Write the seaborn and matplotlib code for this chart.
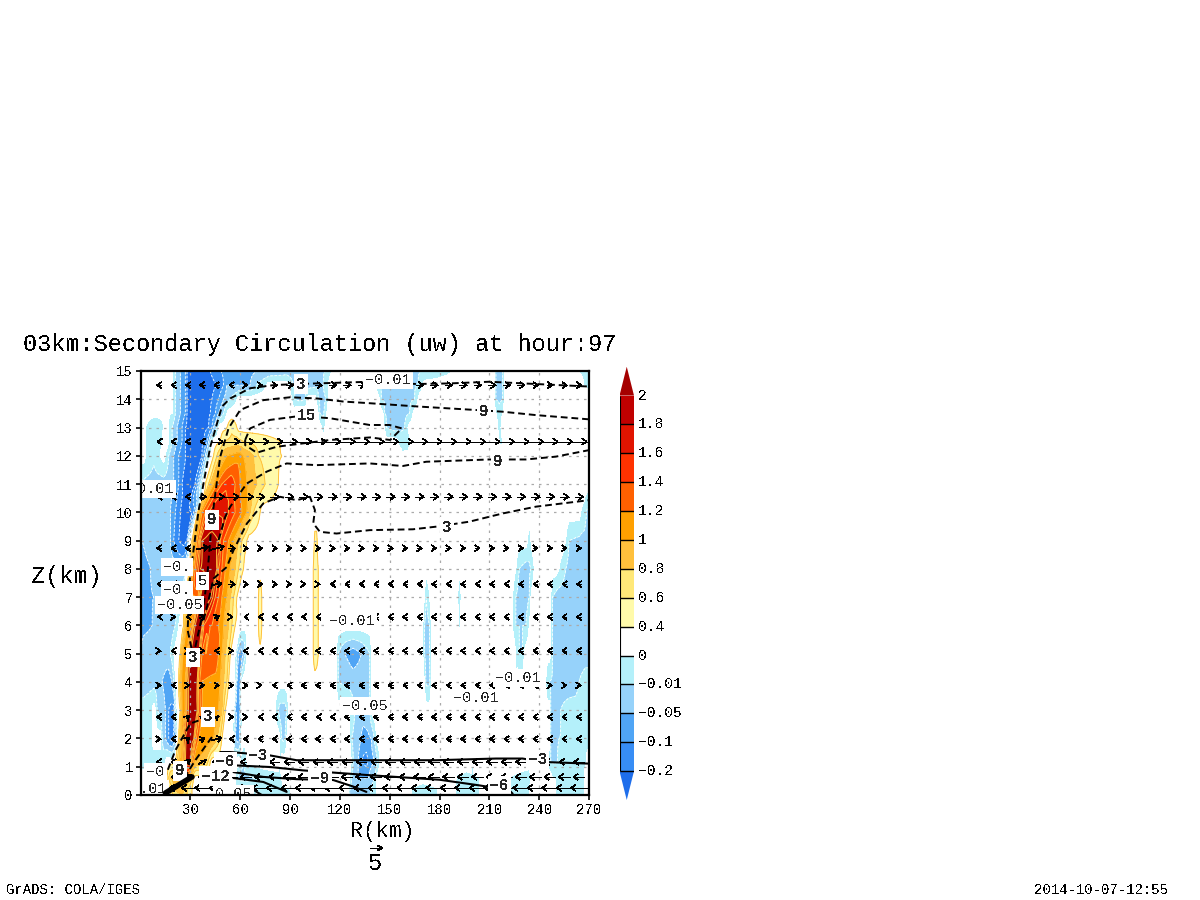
import numpy as np
import matplotlib
matplotlib.use("Agg")
import matplotlib.pyplot as plt
from matplotlib.collections import LineCollection
import seaborn as sns

# ---------- shading classes ----------
LEVELS = [-0.4, -0.2, -0.1, -0.05, -0.01, 0, 0.4, 0.6, 0.8, 1, 1.2, 1.4, 1.6, 1.8, 2, 2.4]
COLORS = ['#1e6eeb', '#378df5', '#50a5f5', '#96d2fa', '#b4f0fa', '#ffffff', '#fffaaa', '#ffe878',
          '#ffc03c', '#ffa000', '#ff6000', '#ff3200', '#e11400', '#c00000', '#a50000']
CB_LABELS = ['−0.2', '−0.1', '−0.05', '−0.01', '0', '0.4', '0.6', '0.8', '1', '1.2', '1.4', '1.6', '1.8', '2']

# ---------- w field, read row by row: radius (km) and value at contour crossings ----------
Z_ROWS = [0, 0.2, 0.6, 1.2, 2, 3, 4, 5, 6, 7, 8, 9, 10, 11, 12, 12.5, 13, 13.5, 14, 14.5, 15]
# radius of the updraft core at each of those heights, so the bands follow its tilt between rows
CORE_TILT = [27, 27, 28, 28.5, 29.5, 31, 31.5, 32.5, 35, 39, 43, 42.5, 46, 53, 58, 58, 58, 58, 58, 58, 58]

R00 = [0,17,18,20,25,28,31,32,60,62,70,80,90,91,125,126,130,138,140,142,143,162,163,170,179,180,189,190,204,205,221,222,234,235,249,250,265,267,268,270]
W00 = [.2,.2,.4,.7,.8,.6,.4,.2,.2,0,-.01,-.005,0,.2,.2,-.01,-.03,-.02,-.005,0,.2,.2,0,-.005,0,.2,.2,-.003,0,.2,.2,-.005,0,.2,.2,0,-.003,0,.2,.2]
R02 = [0,17,18,20,25,28,31,32,60,62,70,80,90,91,125,126,130,138,140,142,143,162,163,170,179,180,189,190,204,205,221,222,234,235,249,250,265,267,268,270]
W02 = [.2,.2,.4,.8,.9,.6,.4,.2,.2,0,-.01,-.005,0,.2,.2,-.01,-.03,-.02,-.005,0,.2,.2,0,-.005,0,.2,.2,-.003,0,.2,.2,-.005,0,.2,.2,0,-.003,0,.2,.2]
R06 = [0,14,16,18,22,26,28,30,32,33,56,57,58,60,65,75,83,85,86,125,126,127,130,137,141,142,143,189,190,196,204,205,221,222,234,235,236,247,248,266,267,268,270]
W06 = [.2,.2,.4,.8,.9,1,1.1,.8,.4,.2,.2,0,-.01,-.03,-.02,-.005,-.003,0,.2,.2,0,-.01,-.05,-.05,-.01,-.001,.2,.2,0,-.003,0,.2,.2,0,-.005,0,.2,.2,0,-.003,0,.2,.2]
R12 = [0,14,15,16,20,21,23,25,26,27,30,31,33,38,40,42,43,59,60,62,64,65,83,84,85,126,127,128,130,133,136,138,141,143,144,145,190,191,192,199,200,201,244,245,247,249,251,252,255,268,269,270]
W12 = [-.005,-.005,0,.2,.2,.4,.8,1.1,1.5,2.05,2.1,1.4,1,.9,.7,.4,.2,.2,0,-.01,0,.2,.2,-.003,.2,.2,0,-.01,-.03,-.1,-.15,-.07,-.05,-.01,0,.2,.2,-.002,.2,.2,-.002,.2,.2,0,-.01,-.02,-.01,0,-.003,-.002,.2,.2]
R20 = [0,5,7,8,12,13,15,17,19,21,22,23,24,25,26,27,32,33,35,42,44,46,48,49,50,56,57,59,60,61,83,84,85,86,87,88,89,125,126,127,131,134,139,140,142,143,190,191,192,199,200,201,246,247,250,252,270]
W20 = [-.01,-.005,0,.2,.2,-.01,-.05,-.1,-.15,-.05,0,.4,.8,1.1,1.8,2.05,2.1,1.5,1.2,1.1,1,.8,.6,.4,.2,.2,-.05,-.08,-.05,.2,.2,0,-.01,-.02,-.01,0,.2,.2,0,-.01,-.03,-.07,-.05,-.03,0,.2,.2,-.002,.2,.2,-.002,.2,.2,-.01,-.03,-.01,-.005]
R30 = [0,5,7,8,9,10,13,15,17,20,21,22,23,24,25,27,28,29,34,35,37,44,47,49,50,51,52,56,57,59,60,61,80,81,83,84,87,88,89,90,125,126,129,130,137,138,139,140,246,247,252,253,262,270]
W30 = [-.01,-.005,0,.2,0,-.01,-.03,-.05,-.1,-.15,-.01,0,.2,.4,1,1.2,1.8,2.05,2.1,1.6,1.2,1.1,1,.8,.6,.4,.2,.2,-.05,-.08,-.05,.2,.2,0,-.01,-.03,-.03,-.01,0,.2,.2,0,-.01,-.03,-.03,-.01,0,.2,.2,-.01,-.03,-.01,-.005,-.005]
R40 = [0,2,10,13,17,19,20,21,22,23,24,25,27,28,29,34,35,37,46,48,50,52,53,54,56,57,58,59,60,61,62,116,118,119,128,136,138,139,140,170,171,172,174,175,176,202,203,204,225,226,227,243,244,245,262,264,268,270]
W40 = [-.01,-.02,-.03,-.05,-.08,-.05,-.01,0,.2,.4,.8,1.1,1.2,1.8,2.05,2.1,1.5,1.2,1.1,1,.8,.6,.4,.2,.2,0,-.05,-.08,-.05,0,.2,.2,0,-.01,-.03,-.03,-.01,0,.2,.2,0,-.02,-.02,0,.2,.2,-.002,.2,.2,-.001,.2,.2,0,-.01,-.03,-.01,-.005,-.005]
R50 = [0,2,16,18,20,21,23,24,25,26,28,29,30,35,36,38,39,46,47,49,51,53,54,55,56,57,58,59,60,62,63,64,65,103,104,105,106,107,108,116,118,119,123,128,133,138,139,140,169,170,171,172,174,175,176,202,203,204,225,226,228,230,231,232,246,247,248,252,270]
W50 = [-.05,-.03,-.03,-.01,0,.2,.3,.4,.9,1.1,1.2,1.8,2.05,2.1,1.6,1.2,1.4,1.4,1.2,1,.8,.6,.4,.2,.2,0,-.03,-.05,-.08,-.05,-.01,0,.2,.2,.4,.55,.5,.4,.2,.2,0,-.01,-.05,-.08,-.05,-.01,0,.2,.2,0,-.01,-.03,-.01,0,.2,.2,-.002,.2,.2,0,-.01,-.01,0,.2,.2,0,-.01,-.03,-.03]
R60 = [0,7,8,19,21,23,24,25,26,27,28,31,32,33,37,38,42,45,47,50,53,55,57,58,70,71,72,73,74,103,104,105,106,107,108,169,170,171,172,174,175,176,191,192,193,202,203,204,223,224,226,232,234,235,245,247,248,250,270]
W60 = [-.07,-.05,-.03,-.03,-.01,0,.2,.2,.4,.8,1.1,1.2,1.8,2.05,2.1,1.6,1.4,1.4,1.2,1,.8,.6,.4,.2,.2,.4,.6,.4,.2,.2,.4,.55,.55,.4,.2,.2,0,-.01,-.03,-.01,0,.2,.2,-.003,.2,.2,-.002,.2,.2,0,-.01,-.01,0,.2,.2,0,-.01,-.03,-.03]
R70 = [0,8,9,22,24,25,26,27,28,29,34,35,36,42,43,45,47,49,52,54,56,58,59,70,71,72,73,74,103,104,105,107,108,170,171,172,174,175,190,191,192,193,194,202,203,204,223,224,226,228,232,234,235,236,245,247,248,251,270]
W70 = [-.07,-.05,-.03,-.03,-.01,0,.2,.4,.9,1.1,1.2,1.5,2,2.1,1.9,1.6,1.4,1.2,1,.8,.6,.4,.2,.2,.4,.55,.4,.2,.2,.4,.55,.4,.2,.2,0,-.01,0,.2,.2,0,-.01,0,.2,.2,-.002,.2,.2,0,-.01,-.03,-.03,-.01,0,.2,.2,0,-.01,-.03,-.03]
R80 = [0,6,8,20,25,27,28,29,30,31,33,35,36,40,46,47,49,51,54,57,59,62,63,103,104,105,107,108,166,167,168,224,226,228,232,235,237,238,250,252,256,259,270]
W80 = [-.07,-.05,-.03,-.03,-.05,-.03,0,.2,.5,1,1.4,1.8,2,2.2,2,1.6,1.4,1.2,1,.8,.6,.4,.2,.2,.4,.55,.4,.2,.2,-.003,.2,.2,0,-.01,-.03,-.01,0,.2,.2,0,-.01,-.03,-.03]
R90 = [0,1,4,15,18,20,23,26,28,29,30,31,32,33,35,36,37,42,47,48,50,53,56,59,61,64,65,104,105,106,107,166,167,168,232,233,234,235,236,254,256,258,270]
W90 = [-.05,-.05,-.04,-.03,-.05,-.1,-.2,-.3,-.2,-.01,.2,.4,.8,1,1.4,1.8,2,2.2,2,1.6,1.4,1.2,1,.8,.6,.4,.2,.2,.45,.45,.2,.2,-.003,.2,.2,0,-.005,0,.2,.2,0,-.01,-.03]
R100 = [0,8,10,11,12,16,18,21,24,28,31,32,33,34,35,36,37,39,41,44,50,53,57,61,64,66,68,72,73,264,265,267,269,270]
W100 = [-.03,-.03,-.01,-.01,-.02,-.04,-.05,-.1,-.2,-.25,-.2,-.1,-.05,0,.8,1,1.2,1.4,1.6,1.8,1.75,1.6,1.4,1.2,1,.8,.6,.4,.2,.2,0,-.003,-.02,-.03]
R110 = [0,15,17,20,23,25,29,33,34,35,36,37,38,39,41,42,44,46,49,53,57,60,64,70,75,83,84,270]
W110 = [-.02,-.03,-.03,-.05,-.1,-.2,-.28,-.2,-.1,-.05,-.01,0,.2,.4,.6,.8,1,1.2,1.4,1.55,1.4,1.2,1,.8,.6,.4,.2,.2]
R120 = [0,2,3,8,12,14,15,17,20,23,27,31,37,38,39,40,42,43,44,46,48,52,60,62,68,71,85,86,157,158,159,270]
W120 = [.2,.2,0,-.008,0,.2,0,-.01,-.05,-.1,-.2,-.3,-.2,-.1,-.05,-.01,0,.2,.4,.6,.8,1,1.1,1,.8,.6,.4,.2,.2,-.001,.2,.2]
R125 = [0,2,3,8,13,14,16,17,19,22,25,27,33,38,40,41,42,43,44,47,48,50,58,62,84,85,154,155,157,161,162,163,215,216,217,218,219,270]
W125 = [.2,.2,0,-.008,0,.2,.2,0,-.01,-.05,-.1,-.2,-.3,-.2,-.1,-.05,-.01,0,.2,.35,.4,.6,.7,.6,.4,.2,.2,0,-.005,-.01,0,.2,.2,0,-.003,0,.2,.2]
R130 = [0,2,3,8,14,15,16,17,19,22,25,27,34,41,43,44,46,47,48,51,52,55,58,59,108,109,110,111,112,146,147,148,153,159,161,162,214,215,216,217,218,270]
W130 = [.2,.2,0,-.008,0,.2,.2,0,-.01,-.05,-.1,-.2,-.35,-.2,-.1,-.05,-.01,0,.2,.3,.4,.55,.4,.2,.2,0,-.005,0,.2,.2,0,-.01,-.03,-.01,0,.2,.2,0,-.005,0,.2,.2]
R135 = [0,19,21,24,27,28,36,42,45,47,50,52,53,106,107,108,110,112,113,145,146,147,155,162,164,165,213,214,216,218,219,270]
W135 = [.2,0,-.01,-.05,-.1,-.2,-.35,-.2,-.1,-.05,-.01,0,.2,.2,0,-.01,-.02,0,.2,.2,0,-.01,-.03,-.01,0,.2,.2,0,-.005,0,.2,.2]
R140 = [0,19,21,24,27,28,37,43,47,50,54,58,59,90,91,93,96,99,100,101,105,106,107,110,112,113,114,143,144,145,155,165,167,168,212,213,214,216,218,219,220,270]
W140 = [.2,0,-.01,-.05,-.1,-.2,-.35,-.2,-.1,-.05,-.01,0,.2,.2,0,-.01,-.02,-.01,0,.2,.2,0,-.01,-.02,-.01,0,.2,.2,0,-.01,-.03,-.01,0,.2,.2,0,-.01,-.02,-.01,0,.2,.2]
R145 = [0,19,21,24,27,28,38,46,50,52,66,70,76,77,88,89,92,100,110,113,114,141,142,143,155,167,170,171,212,213,214,216,218,219,220,265,267,270]
W145 = [.2,0,-.01,-.05,-.1,-.2,-.35,-.2,-.1,-.05,-.05,-.01,0,.2,.2,0,-.01,-.03,-.01,0,.2,.2,0,-.01,-.03,-.01,0,.2,.2,0,-.01,-.03,-.01,0,.2,.2,0,-.003]
R150 = [0,19,21,24,27,28,35,42,48,71,90,112,115,116,140,141,142,150,170,188,190,212,213,214,216,218,219,220,262,263,270]
W150 = [.2,0,-.01,-.05,-.1,-.2,-.35,-.2,-.1,-.05,-.03,-.01,0,.2,.2,0,-.01,-.03,-.01,0,.2,.2,0,-.01,-.03,-.01,0,.2,.2,0,-.005]

R_ROWS = [R00,R02,R06,R12,R20,R30,R40,R50,R60,R70,R80,R90,R100,R110,R120,R125,R130,R135,R140,R145,R150]
W_ROWS = [W00,W02,W06,W12,W20,W30,W40,W50,W60,W70,W80,W90,W100,W110,W120,W125,W130,W135,W140,W145,W150]

# ---------- wind vectors ----------
VEC_Z = [14.5, 12.5, 10.55, 8.73, 7.46, 6.3, 5.1, 3.88, 2.76, 1.98, 1.17, 0.64, 0.25]
U145 = [-1.5,-1.5,-1.5,-2,-2,-1.5,1.2,1.5,2,3,3,3,3,3,3,3,3,3,3,3,3,3,3,3,3,3,2,2,2,2]
U125 = [-1,-1.5,-1.5,-1.5,5,7,7,7,6.5,6.5,6.5,6.5,6.5,6.5,6.5,6.5,6.5,6.5,6.5,6.5,6.5,6.5,6.5,6.5,6.5,6.5,6.5,6.5,6.5,6.5]
U105 = [-1,-1.5,-1.5,3,6,6,6,3.5,3.5,3.5,3.5,3.5,3.5,3.5,3.5,3.5,3.5,3.5,3.5,3.5,3.5,3.5,3.5,3.5,3.5,3.5,3.5,3.5,3.5,3.5]
U87 = [-1.5,-1.5,-1.5,5,6,3,1.7,1.7,1.7,1.7,1.7,1.7,1.7,1.7,1.7,1.7,1.7,1.7,1.7,1.7,1.7,1.7,1.7,1.7,1.7,1.7,1.7,1.7,1.7,1.7]
U75 = [-1,-1,-1,3,4,3,1.7,1.7,1.7,1.5,1.5,1.2,-1.5,-1.5,-1.5,-1.5,-1.5,-1.5,-1.5,-1.5,-1.5,-1.5,-1.5,-1.5,-1.5,-1.5,-1.5,-1.5,-1.5,-1.5]
U63 = [-0.5,1.5,-1,2,2,1,-1.2,-1.2,-1.5,-1.2,-1.2,-1.5,-1.7,-1.7,-1.7,-1.7,-1.7,-1.7,-1.7,-1.7,-1.7,-1.7,-1.7,-1.7,-1.7,-1.7,-1.7,-1.7,-1.7,-1.7]
U51 = [1.5,-1.5,1.2,1.5,-1.5,1.5,-1.5,-1.2,-1.5,-1.5,-1.7,-1.7,-1.7,-1.7,-1.7,-1.7,-1.7,-1.7,-1.7,-1.7,-1.7,-1.7,-1.7,-1.7,-1.7,-1.7,-1.7,-1.7,-1.7,-1.7]
U39 = [1.5,-1.2,1,1.5,1.7,1.7,1.5,1,-1.5,-1.5,-1.7,-1.7,-1.7,-1.7,-1.7,-1.7,-1.7,-1.5,-1.5,-1.5,-1.5,-1.5,-1.5,-1.5,-1.5,-1.5,-1.5,1.5,1.5,1.5]
U28 = [-1.5,-1.5,1,1.5,1.5,1.5,1.5,-1.2,-1.5,-1.5,-1.7,-1.2,-1.5,-1.7,-1.7,-1.7,-1.7,-1.7,-1.7,-1.7,-1.7,-1.7,-1.7,-1.7,-1.7,-1.7,-1.7,-1.7,-1.7,-1.7]
U20 = [1.5,-1.5,1.2,2,4,-1.2,-1.5,-1.5,-1.5,-1.7,-1.7,-1.7,-1.7,-1.7,-1.7,-1.7,-1.7,-1.7,-1.7,-1.7,-1.7,-1.7,-1.7,-1.7,-1.7,-1.7,-1.7,-1.7,-1.7,-1.7]
U12 = [-1.5,-1.5,2,3,-3,-3.5,-4,-4,-4,-4,-4,-4,-4,-4,-4,-4,-4,-4,-4,-4,-4,-4,-4,-4,-4,-4,-4,-4,-4,-4]
U06 = [-1.5,-1.5,3,-3,-3.5,-4.5,-4.5,-4.5,-4.5,-4.5,-4.5,-4.5,-4.5,-4.5,-4.5,-4.5,-4.5,-4.5,-4.5,-4.5,-4.5,-4.5,-4.5,-4.5,-4.5,-4.5,-4.5,-4.5,-4.5,-4.5]
U02 = [-2,-3,-5,-6,-6,-6.5,-6.5,-6.5,-6.5,-6.5,-6.5,-6.5,-6.5,-6.5,-6.5,-6.5,-6.5,-6.5,-6.5,-6.5,-6.5,-6.5,-6.5,-6.5,-6.5,-6.5,-6.5,-6.5,-6.5,-6.5]
U_ROWS = [U145,U125,U105,U87,U75,U63,U51,U39,U28,U20,U12,U06,U02]
V_ROWS = [[0],[0],[0],[0,0,0,1,1.5],[0,0,0,1,1],[0,0,0,1,1],[0],[0],[0,0,1,1,1],[0,0,1,1,1],[0,0,2,2],[0,0,1.5],[0]]

# ---------- u contours: positive dashed, negative solid ----------
L1_R = [32,28.4,29.6,35,42,49,54,66,80,94,106,138,166,186,210,238,270]
L1_Z = [4.83,5.83,7.6,10.08,12.32,13.74,14.03,14.39,14.5,14.54,14.56,14.62,14.54,14.56,14.62,14.54,14.45]
L2_R = [33,37,40,43,44,48,53,60,74,90,106,122,138,168,202,218,238,270]
L2_Z = [5.24,6.3,7.6,9.75,10.2,11.97,12.97,13.62,13.97,14.07,14.03,13.92,13.86,13.74,13.62,13.56,13.44,13.29]
L3_R = [63,66,78,96,114,138,150,157.3,150.3,138.3,114,82,70,63,63]
L3_Z = [12.56,12.97,13.27,13.41,13.33,13.09,13.09,12.97,12.56,12.65,12.56,12.32,12.11,12.38,12.56]
L4_R = [47,51,54,64,76,88,106,138,158,172,210,232,250,270]
L4_Z = [9.02,9.84,10.2,11.02,11.44,11.73,11.67,11.73,11.64,11.79,11.87,11.87,11.97,12.2]
L5_R = [38,41,44,52,56,64,74,84,94,102,105,104,108,118,138,164,179,198,218,238,270]
L5_Z = [6.18,6.9,7.66,8.07,8.66,9.6,10.32,10.55,10.43,10.55,10.08,9.61,9.31,9.25,9.37,9.4,9.5,9.67,9.96,10.2,10.43]
L6_R = [41,30,21,14]
L6_Z = [2.76,2.53,1.58,0.52]
L7_R = [43,33,28]
L7_Z = [2.05,1.23,0.76]
S1_R = [48,54,78,94,138,178,214,230,242,270]
S1_Z = [1.52,1.52,1.4,1.23,1.23,1.23,1.29,1.29,1.17,1.11]
S2_R = [56,78,98,138,180,204,222,224]
S2_Z = [1.05,0.99,0.87,0.7,0.54,0.34,0.17,0.05]
S3_R = [56,74,94,116,128,136]
S3_Z = [0.81,0.64,0.56,0.53,0.3,0.11]
S4_R = [56,74,88]
S4_Z = [0.6,0.46,0.11]
S5_R = [56,68,73]
S5_Z = [0.25,0.18,0]
CORE_R = [15,31]
CORE_Z = [0.07,0.64]

# ---------- contour labels ----------
BOLD_TEXT = ['3','15','9','9','9','3','3','3','−3','−6','−12','−9','−3','−6','9']
BOLD_R = [96.8,99.8,206.8,215.2,43.2,184.5,31.8,40.8,70.9,51,45,108,239,216,24]
BOLD_Z = [14.54,13.41,13.55,11.81,9.73,9.48,4.85,2.76,1.41,1.17,0.67,0.6,1.27,0.32,0.85]
THIN_TEXT = ['−0.01','0.01','−0.','−0.','−0.05','5','−0.01','−0.01','−0.01','−0.05','−0','0.01','0.05']
THIN_R = [149,9,22,22,23.5,37.5,127.4,227.2,202,135.2,9,5,56]
THIN_Z = [14.68,10.82,8.07,7.25,6.72,7.57,6.15,4.14,3.43,3.15,0.81,0.2,0.03]

X_TICKS = [30,60,90,120,150,180,210,240,270]
Y_TICKS = list(range(0,16))

# ---------- setup ----------
sns.set_theme(style="white")
MONO = ['Liberation Mono', 'DejaVu Sans Mono']
plt.rcParams['font.family'] = MONO
plt.rcParams['text.antialiased'] = False
W, H = 1200, 900
fig = plt.figure(figsize=(12, 9), dpi=100, facecolor='white')
AX_L, AX_R, AX_T, AX_B = 140.5, 589, 371, 795
ax = fig.add_axes([AX_L/W, 1-AX_B/H, (AX_R-AX_L)/W, (AX_B-AX_T)/H])
ax.set_xlim(0, 270); ax.set_ylim(0, 15)

# shaded field: rows blended along the core's tilt, so narrow bands stay continuous
idx = np.arange(len(LEVELS), dtype=float)
R_FINE = np.arange(0, 270.01, 0.25)
Z_FINE = np.arange(0, 15.001, 0.05)
rows_r = [np.asarray(r, float) for r in R_ROWS]
rows_v = [np.interp(w, LEVELS, idx) for w in W_ROWS]
zr = np.asarray(Z_ROWS); tilt = np.asarray(CORE_TILT, float)
weight = np.interp(R_FINE, [20, 32, 58, 68], [0, 1, 1, 0])
field = np.zeros((len(Z_FINE), len(R_FINE)))
for k, z in enumerate(Z_FINE):
    i = min(np.searchsorted(zr, z, side='right') - 1, len(zr) - 2)
    t = (z - zr[i]) / (zr[i+1] - zr[i])
    c = tilt[i] + t*(tilt[i+1] - tilt[i])
    va = np.interp(R_FINE - (c - tilt[i])*weight, rows_r[i], rows_v[i])
    vb = np.interp(R_FINE - (c - tilt[i+1])*weight, rows_r[i+1], rows_v[i+1])
    field[k] = (1-t)*va + t*vb
ax.contourf(R_FINE, Z_FINE, field, levels=idx, colors=COLORS, zorder=1, antialiased=False)
ax.contour(R_FINE, Z_FINE, field, levels=idx[1:5], colors='white', linewidths=0.6, linestyles=[(0,(3,2))], zorder=2)
ax.contour(R_FINE, Z_FINE, field, levels=idx[6:15], colors='#ffc03c', linewidths=0.7, linestyles='solid', zorder=2)

# dotted grid
for x in X_TICKS[:-1]:
    ax.axvline(x, color='#aaaaaa', lw=0.9, ls=(0,(2,4)), zorder=3)
for y in Y_TICKS[1:-1]:
    ax.axhline(y, color='#aaaaaa', lw=0.9, ls=(0,(2,4)), zorder=3)

# wind vectors: open chevron heads of a fixed pixel size
DXP = 270/(AX_R-AX_L); DYP = 15/(AX_B-AX_T)
PX_PER_UNIT = 2.4
VEC_R = 11 + 8.72*np.arange(30)
segs = []
for z, us, vs in zip(VEC_Z, U_ROWS, V_ROWS):
    vv = list(vs) + [0]*(30-len(vs))
    for r, u, v in zip(VEC_R, us, vv):
        lx, ly = u*PX_PER_UNIT, v*PX_PER_UNIT
        L = np.hypot(lx, ly)
        ux, uy = lx/L, ly/L
        tipx, tipy = lx/2, ly/2
        tail = (r - lx/2*DXP, z - ly/2*DYP)
        tip = (r + tipx*DXP, z + tipy*DYP)
        segs.append([tail, tip])
        for s in (1, -1):
            hx = tipx - 4.5*ux - s*3*uy
            hy = tipy - 4.5*uy + s*3*ux
            segs.append([tip, (r + hx*DXP, z + hy*DYP)])
ax.add_collection(LineCollection(segs, colors='black', linewidths=0.5, antialiased=False, zorder=4))

# u contours through seaborn
DASH = (0, (3.5, 2))
for rr, zz in [(L1_R,L1_Z),(L2_R,L2_Z),(L3_R,L3_Z),(L4_R,L4_Z),(L5_R,L5_Z),(L6_R,L6_Z),(L7_R,L7_Z)]:
    sns.lineplot(x=rr, y=zz, sort=False, estimator=None, ax=ax, color='black', lw=1.4, linestyle=DASH, zorder=5)
for rr, zz in [(S1_R,S1_Z),(S2_R,S2_Z),(S3_R,S3_Z),(S4_R,S4_Z),(S5_R,S5_Z)]:
    sns.lineplot(x=rr, y=zz, sort=False, estimator=None, ax=ax, color='black', lw=1.5, zorder=5)

box = dict(facecolor='white', edgecolor='none', pad=1.5)
for t, r, z in zip(THIN_TEXT, THIN_R, THIN_Z):
    ax.text(r, z, t, fontsize=11, ha='center', va='center', bbox=box, zorder=6, clip_on=True)
for t, r, z in zip(BOLD_TEXT, BOLD_R, BOLD_Z):
    ax.text(r, z, t, fontsize=11.5, fontweight='bold', ha='center', va='center', bbox=box, zorder=7)
sns.lineplot(x=CORE_R, y=CORE_Z, sort=False, estimator=None, ax=ax, color='black', lw=4, zorder=7.5)

# axes
ax.set_xlim(0, 270); ax.set_ylim(0, 15)
ax.set_xticks(X_TICKS); ax.set_yticks(Y_TICKS)
ax.tick_params(axis='both', length=3.5, width=1.2, color='black', labelsize=10, labelcolor='black',
               left=True, bottom=True, pad=2)
for s in ax.spines.values():
    s.set_visible(True); s.set_color('black'); s.set_linewidth(1.6); s.set_zorder(8)
ax.set_xticklabels([str(v) for v in X_TICKS]); ax.set_yticklabels([str(v) for v in Y_TICKS])
ax.set_xlabel(''); ax.set_ylabel('')

# colour bar
CB_L, CB_R, CB_T, CB_B = 619.5, 634, 366.7, 800
cax = fig.add_axes([CB_L/W, 1-CB_B/H, (CB_R-CB_L)/W, (CB_B-CB_T)/H])
cax.set_xlim(0, 1); cax.set_ylim(0, 15); cax.axis('off')
cax.bar([0.5]*13, [1]*13, bottom=list(range(1, 14)), width=1, color=COLORS[1:14], linewidth=0)
cax.fill([0, 1, 0.5], [1, 1, 0], color=COLORS[0], lw=0)
cax.fill([0, 1, 0.5], [14, 14, 15], color=COLORS[14], lw=0)
cax.hlines(range(1, 14), 0, 1, color='black', lw=1)
cax.vlines(0, 1, 14, color='black', lw=0.8)
for i, t in enumerate(CB_LABELS):
    cax.text(1.3, i+1, t, fontsize=10.5, ha='left', va='center', color='black', clip_on=False)

# texts
def ftext(x, y, s, **kw):
    fig.text(x/W, 1-y/H, s, color='black', va='center', **kw)
ftext(23, 344, '03km:Secondary Circulation (uw) at hour:97', fontsize=17, ha='left')
ftext(66, 576, 'Z(km)', fontsize=17, ha='center')
ftext(382, 832, 'R(km)', fontsize=15.5, ha='center')
ftext(376, 864, '5', fontsize=17, ha='center')
ftext(6, 890, 'GrADS: COLA/IGES', fontsize=10, ha='left')
ftext(1168, 890, '2014-10-07-12:55', fontsize=10, ha='right')
# reference vector of the legend: 5 units long
leg = fig.add_axes([0, 0, 1, 1]); leg.set_xlim(0, W); leg.set_ylim(H, 0); leg.axis('off')
SCALE_U = 5
leg.plot([370, 370+SCALE_U*PX_PER_UNIT], [848, 848], color='black', lw=0.7, antialiased=False)
leg.plot([378, 382, 378], [845.5, 848, 850.5], color='black', lw=0.7, antialiased=False)

fig.savefig('out.png', dpi=100, facecolor='white')
